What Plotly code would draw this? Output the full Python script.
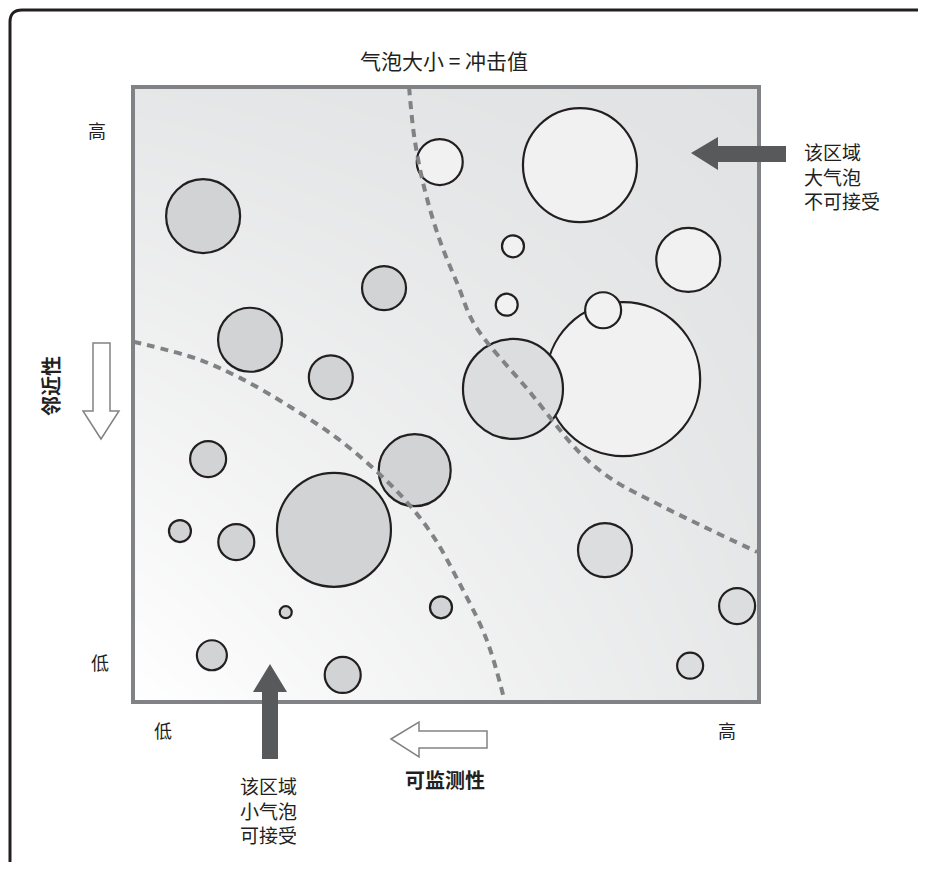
import plotly.graph_objects as go

# ---------------- data ----------------
bubble_x = [49.0, 71.4, 11.2, 60.7, 88.7, 40.1, 59.7, 18.7, 78.3, 75.1, 60.7, 31.6,
            12.0, 45.0, 7.5, 16.5, 32.1, 75.4, 96.5, 49.2, 24.4, 12.6, 89.0, 33.5]
bubble_y = [87.8, 87.3, 79.0, 74.1, 71.9, 67.3, 64.6, 58.9, 52.5, 63.7, 50.9, 52.8,
            39.5, 37.7, 27.8, 26.0, 28.0, 24.7, 15.6, 15.4, 14.6, 7.6, 5.9, 4.4]
impact = [46, 114, 74, 22, 64, 44, 22, 64, 154, 36, 100, 44,
          36, 72, 22, 36, 114, 54, 36, 22, 12, 30, 26, 36]
zone = ["hi", "hi", "lo", "hi", "hi", "lo", "hi", "lo", "hi", "hi", "mid", "lo",
        "lo", "lo", "lo", "lo", "lo", "mid", "mid", "lo", "lo", "lo", "mid", "lo"]

upper_bx = [44.1, 45.0, 46.6, 49.0, 51.9, 54.6, 63.4, 71.4, 76.7, 84.2, 92.2, 99.7]
upper_by = [100, 91.4, 83.3, 75.1, 67.8, 61.3, 50.4, 40.5, 36.1, 32.0, 28.0, 24.4]
lower_bx = [0, 10.2, 17.1, 25.1, 32.6, 38.7, 43.5, 47.8, 51.9, 56.5, 59.4]
lower_by = [58.6, 55.8, 52.7, 48.0, 42.9, 37.7, 32.8, 27.2, 19.8, 10.1, 0]

title_text = "气泡大小 = 冲击值"
x_label = "可监测性"
y_label = "邻近性"
tick_low, tick_high = "低", "高"
note_high = ["该区域", "大气泡", "不可接受"]
note_low = ["该区域", "小气泡", "可接受"]

# ---------------- style ----------------
FONT = "Noto Sans CJK SC, Noto Sans, sans-serif"
TXT = "#231f20"
zone_color = {"lo": "#d1d3d4", "mid": "#dcdddf", "hi": "#f1f1f2"}
OFF = 8                      # default page margin around the plot div
W, H = 926 - OFF, 870 - 2 * OFF
L, R, T, B = 133, 759, 87, 702   # plot area in window pixels


def px(x, y):
    return (x - L) / (R - L), (B - y) / (B - T)


def poly(points):
    s = ""
    for i, (x, y) in enumerate(points):
        a, b = px(x, y)
        s += ("M" if i == 0 else "L") + f"{a:.5f},{b:.5f} "
    return s + "Z"


fig = go.Figure()

# background gradient
fig.add_trace(go.Heatmap(x=[0, 100], y=[0, 100], z=[[0, 0.8], [0.85, 1]],
                         zsmooth="best", showscale=False, hoverinfo="skip",
                         colorscale=[[0, "#ffffff"], [1, "#e1e2e3"]]))

fig.add_trace(go.Scatter(
    x=bubble_x, y=bubble_y, mode="markers", hoverinfo="skip",
    marker=dict(size=impact, sizemode="diameter", sizeref=1,
                color=[zone_color[z] for z in zone], opacity=1,
                line=dict(color=TXT, width=2.2))))

for bx, by in [(upper_bx, upper_by), (lower_bx, lower_by)]:
    fig.add_trace(go.Scatter(x=bx, y=by, mode="lines", hoverinfo="skip",
                             line=dict(color="#808285", width=4, dash="8px,6px",
                                       shape="spline", smoothing=1.0)))

shapes = []
# plot frame
shapes.append(dict(type="rect", xref="paper", yref="paper", x0=0, y0=0, x1=1, y1=1,
                   line=dict(color="#808285", width=4), layer="above"))
# outer rounded frame (kept inside the figure area)
FX, FY = 10, 10
x0, y0 = px(FX, FY + 12)
x1, y1 = px(FX, FY)
xa, ya = px(FX + 12, FY)
xb, yb = px(960, FY)
xc, yc = px(FX, 900)
shapes.append(dict(type="path", xref="paper", yref="paper",
                   path=f"M{xc:.5f},{yc:.5f} L{x0:.5f},{y0:.5f} Q{x1:.5f},{y1:.5f} {xa:.5f},{ya:.5f} L{xb:.5f},{yb:.5f}",
                   line=dict(color=TXT, width=3)))
# filled arrows
dark = "#58595b"
shapes.append(dict(type="path", xref="paper", yref="paper",
                   path=poly([(691, 153), (718, 137), (718, 146), (786, 146), (786, 162), (718, 162), (718, 170)]),
                   fillcolor=dark, line=dict(width=0)))
shapes.append(dict(type="path", xref="paper", yref="paper",
                   path=poly([(270, 664), (287, 692), (278, 692), (278, 759), (262, 759), (262, 692), (253, 692)]),
                   fillcolor=dark, line=dict(width=0)))
# hollow arrows
shapes.append(dict(type="path", xref="paper", yref="paper",
                   path=poly([(391, 739), (419, 722), (419, 731), (487, 731), (487, 748), (419, 748), (419, 757)]),
                   fillcolor="white", line=dict(color="#808285", width=1.5)))
shapes.append(dict(type="path", xref="paper", yref="paper",
                   path=poly([(101, 439), (119, 411), (110, 411), (110, 343), (93, 343), (93, 411), (83, 411)]),
                   fillcolor="white", line=dict(color="#808285", width=1.5)))

ann = []


def text(t, x, y, size=17, xanchor="center", bold=False, angle=0):
    a, b = px(x, y)
    ann.append(dict(text=f"<b>{t}</b>" if bold else t, x=a, y=b, xref="paper", yref="paper",
                    showarrow=False, xanchor=xanchor, yanchor="middle", textangle=angle,
                    align="left", font=dict(family=FONT, size=size, color=TXT)))


text(title_text, 444, 60, size=21)
text(tick_high, 97, 130, size=18)
text(tick_low, 100, 662, size=18)
text(tick_low, 163, 730, size=18)
text(tick_high, 727, 730, size=18)
text(y_label, 50, 386, size=20, bold=True, angle=-90)
text(x_label, 445, 779, size=20, bold=True)
text("<br>".join(note_high), 802, 176, size=19, xanchor="left")
text("<br>".join(note_low), 238, 810, size=19, xanchor="left")

fig.update_layout(
    width=W, height=H, autosize=False,
    margin=dict(l=L - OFF, r=W - (R - OFF), t=T - OFF, b=H - (B - OFF), pad=0),
    paper_bgcolor="white", plot_bgcolor="white",
    showlegend=False, shapes=shapes, annotations=ann,
    xaxis=dict(range=[0, 100], visible=False, fixedrange=True),
    yaxis=dict(range=[0, 100], visible=False, fixedrange=True),
)

fig.write_html("out.html")
